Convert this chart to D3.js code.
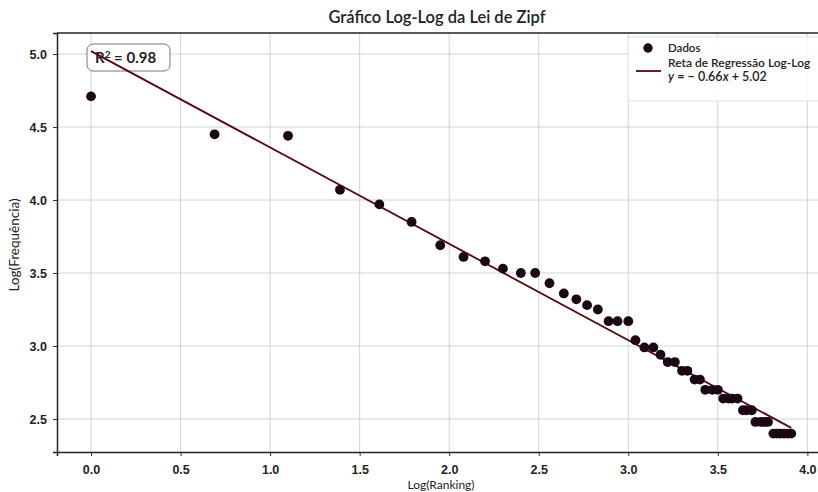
<!DOCTYPE html>
<html>
<head>
<meta charset="utf-8">
<script src="https://cdn.jsdelivr.net/npm/d3@7"></script>
<style>
  body { margin: 0; background: #fff; }
  svg { font-family: "Lato", "Open Sans", sans-serif; }
</style>
</head>
<body>
<svg id="chart" width="818" height="492"></svg>
<script>
// log(ranking) of each word
var logRanking = [0.00, 0.69, 1.10, 1.39, 1.61, 1.79, 1.95, 2.08, 2.20, 2.30,
                  2.40, 2.48, 2.56, 2.64, 2.71, 2.77, 2.83, 2.89, 2.94, 3.00,
                  3.04, 3.09, 3.14, 3.18, 3.22, 3.26, 3.30, 3.33, 3.37, 3.40,
                  3.43, 3.47, 3.50, 3.53, 3.56, 3.58, 3.61, 3.64, 3.66, 3.69,
                  3.71, 3.74, 3.76, 3.78, 3.81, 3.83, 3.85, 3.87, 3.89, 3.91];
// log(frequencia)
var logFreq = [4.71, 4.45, 4.44, 4.07, 3.97, 3.85, 3.69, 3.61, 3.58, 3.53,
               3.50, 3.50, 3.43, 3.36, 3.32, 3.28, 3.25, 3.17, 3.17, 3.17,
               3.04, 2.99, 2.99, 2.94, 2.89, 2.89, 2.83, 2.83, 2.77, 2.77,
               2.70, 2.70, 2.70, 2.64, 2.64, 2.64, 2.64, 2.56, 2.56, 2.56,
               2.48, 2.48, 2.48, 2.48, 2.40, 2.40, 2.40, 2.40, 2.40, 2.40];

var slope = -0.66, intercept = 5.02, r2 = 0.98;
var xTicks = [0, 0.5, 1, 1.5, 2, 2.5, 3, 3.5, 4];
var yTicks = [2.5, 3, 3.5, 4, 4.5, 5];

var svg = d3.select("#chart");
var m = {left: 57, top: 33, right: 826, bottom: 452};

var x = d3.scaleLinear().domain([-0.19, 4.104]).range([m.left, m.right]);
var y = d3.scaleLinear().domain([2.274, 5.144]).range([m.bottom, m.top]);

// grid
svg.append("g").selectAll("line").data(xTicks).join("line")
    .attr("x1", d => x(d)).attr("x2", d => x(d))
    .attr("y1", m.top).attr("y2", m.bottom)
    .attr("stroke", "#c8c8c8").attr("stroke-width", 0.8);
svg.append("g").selectAll("line").data(yTicks).join("line")
    .attr("y1", d => y(d)).attr("y2", d => y(d))
    .attr("x1", m.left).attr("x2", m.right)
    .attr("stroke", "#c8c8c8").attr("stroke-width", 0.8);

// axes
var xAxis = svg.append("g").attr("transform", "translate(0," + m.bottom + ")")
    .call(d3.axisBottom(x).tickValues(xTicks).tickFormat(d3.format(".1f")).tickSize(4).tickPadding(9));
var yAxis = svg.append("g").attr("transform", "translate(" + m.left + ",0)")
    .call(d3.axisLeft(y).tickValues(yTicks).tickFormat(d3.format(".1f")).tickSize(4).tickPadding(6));
[xAxis, yAxis].forEach(function(a) {
    a.select(".domain").attr("stroke", "#222").attr("stroke-width", 1.5);
    a.selectAll("text").attr("font-size", 12.5).attr("font-weight", 600).attr("fill", "#222");
    a.selectAll(".tick line").attr("stroke", "#333");
});
// top spine
svg.append("line").attr("x1", m.left).attr("x2", m.right).attr("y1", m.top).attr("y2", m.top)
    .attr("stroke", "#222").attr("stroke-width", 1.5);

// R^2 box
var rb = svg.append("g");
rb.append("rect").attr("x", 87).attr("y", 44).attr("width", 83).attr("height", 27)
    .attr("rx", 6).attr("fill", "#fff").attr("stroke", "#777").attr("stroke-width", 1);
var rt = rb.append("text").attr("x", 95).attr("y", 63).attr("font-size", 15)
    .attr("font-weight", "bold").attr("fill", "#222");
rt.append("tspan").text("R");
rt.append("tspan").attr("dy", -5).attr("font-size", 10).text("2");
rt.append("tspan").attr("dy", 5).text(" = " + r2.toFixed(2));

// regression line
var xr = [d3.min(logRanking), d3.max(logRanking)];
svg.append("line")
    .attr("x1", x(xr[0])).attr("y1", y(slope * xr[0] + intercept))
    .attr("x2", x(xr[1])).attr("y2", y(slope * xr[1] + intercept))
    .attr("stroke", "#55060f").attr("stroke-width", 1.8);

// points
svg.append("g").selectAll("circle").data(logRanking).join("circle")
    .attr("cx", d => x(d)).attr("cy", (d, i) => y(logFreq[i]))
    .attr("r", 4.9).attr("fill", "#1c0714");

// title and labels
svg.append("text").attr("x", 437).attr("y", 23).attr("text-anchor", "middle")
    .attr("font-size", 16.5).attr("font-weight", 600).attr("fill", "#222")
    .text("Gráfico Log-Log da Lei de Zipf");
svg.append("text").attr("x", 441).attr("y", 489).attr("text-anchor", "middle")
    .attr("font-size", 12).attr("fill", "#222").text("Log(Ranking)");
svg.append("text").attr("transform", "translate(19,245) rotate(-90)").attr("text-anchor", "middle")
    .attr("font-size", 13.5).attr("fill", "#222").text("Log(Frequência)");

// legend
var lg = svg.append("g");
lg.append("rect").attr("x", 628).attr("y", 37).attr("width", 200).attr("height", 64)
    .attr("rx", 3).attr("fill", "#fff").attr("fill-opacity", 0.85)
    .attr("stroke", "#e2e2e2");
lg.append("circle").attr("cx", 648).attr("cy", 48).attr("r", 4.7).attr("fill", "#1c0714");
lg.append("text").attr("x", 668).attr("y", 52).attr("font-size", 11.5).attr("font-weight", 600)
    .attr("fill", "#222").text("Dados");
lg.append("line").attr("x1", 636).attr("x2", 661).attr("y1", 71).attr("y2", 71)
    .attr("stroke", "#55060f").attr("stroke-width", 1.8);
lg.append("text").attr("x", 668).attr("y", 67).attr("font-size", 12).attr("font-weight", 600)
    .attr("fill", "#222").text("Reta de Regressão Log-Log");
var eq = lg.append("text").attr("x", 668).attr("y", 81).attr("font-size", 12.5)
    .attr("font-weight", 600).attr("fill", "#222");
eq.append("tspan").attr("font-style", "italic").text("y");
eq.append("tspan").text(" =  − " + Math.abs(slope).toFixed(2));
eq.append("tspan").attr("font-style", "italic").text("x");
eq.append("tspan").text(" + " + intercept.toFixed(2));
</script>
</body>
</html>
